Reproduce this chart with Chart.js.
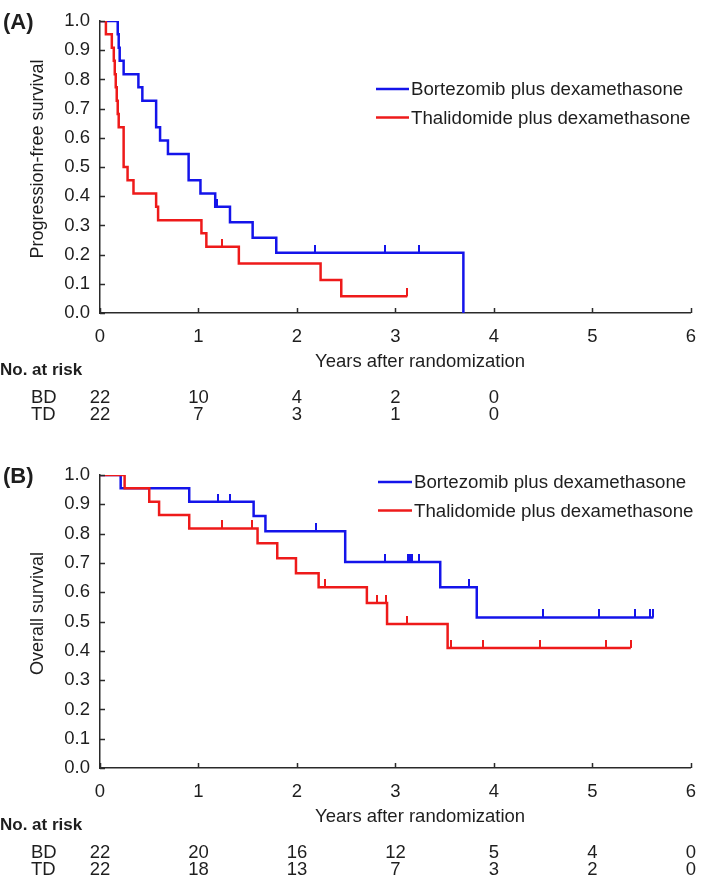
<!DOCTYPE html>
<html>
<head>
<meta charset="utf-8">
<script src="https://cdn.jsdelivr.net/npm/chart.js@4.4.1/dist/chart.umd.min.js"></script>
<style>
  body { margin: 0; background: #fff; }
  canvas { display: block; }
</style>
</head>
<body>
<canvas id="chartA" width="709" height="454"></canvas>
<canvas id="chartB" width="709" height="423"></canvas>
<script>
// ---- data ----
const seriesNames = ['Bortezomib plus dexamethasone', 'Thalidomide plus dexamethasone'];
const armCodes = ['BD', 'TD'];
const xTicks = [0, 1, 2, 3, 4, 5, 6];
const xTitle = 'Years after randomization';

// (A) progression-free survival
const pfsBdTime = [0, 0.18, 0.19, 0.20, 0.24, 0.39, 0.43, 0.57, 0.61, 0.69, 0.90, 1.02, 1.17, 1.32, 1.55, 1.79, 3.69];
const pfsBdSurv = [1, 0.955, 0.909, 0.864, 0.818, 0.773, 0.727, 0.636, 0.591, 0.545, 0.455, 0.409, 0.364, 0.311, 0.258, 0.206, 0];
const pfsBdCensor = [1.19, 2.18, 2.89, 3.24];
const pfsTdTime = [0, 0.06, 0.12, 0.14, 0.15, 0.16, 0.17, 0.18, 0.19, 0.24, 0.28, 0.34, 0.57, 0.59, 1.03, 1.08, 1.41, 2.24, 2.45, 3.12];
const pfsTdSurv = [1, 0.955, 0.909, 0.864, 0.818, 0.773, 0.727, 0.682, 0.636, 0.5, 0.455, 0.409, 0.364, 0.318, 0.273, 0.227, 0.17, 0.113, 0.057, 0.057];
const pfsTdCensor = [1.24, 3.12];
const pfsRiskBd = [22, 10, 4, 2, 0];
const pfsRiskTd = [22, 7, 3, 1, 0];

// (B) overall survival
const osBdTime = [0, 0.21, 0.906, 1.56, 1.68, 2.49, 3.455, 3.826, 5.62];
const osBdSurv = [1, 0.955, 0.909, 0.86, 0.808, 0.703, 0.617, 0.514, 0.514];
const osBdCensor = [1.20, 1.32, 2.19, 2.89, 3.13, 3.15, 3.17, 3.24, 3.75, 4.50, 5.07, 5.43, 5.59, 5.62];
const osTdTime = [0, 0.25, 0.50, 0.60, 0.906, 1.60, 1.80, 1.99, 2.22, 2.71, 2.915, 3.53, 5.39];
const osTdSurv = [1, 0.955, 0.909, 0.864, 0.818, 0.767, 0.716, 0.665, 0.617, 0.563, 0.492, 0.41, 0.41];
const osTdCensor = [1.24, 1.54, 2.28, 2.81, 2.90, 3.12, 3.56, 3.89, 4.47, 5.14, 5.39];
const osRiskBd = [22, 20, 16, 12, 5, 4, 0];
const osRiskTd = [22, 18, 13, 7, 3, 2, 0];

// ---- styling ----
const blue = '#1414ea';
const red = '#ee1a1a';
const axisColor = '#2a2a2a';
const textColor = '#1e1e1e';
const fontFamily = '"Liberation Sans", Arial, Helvetica, sans-serif';

Chart.defaults.font.family = fontFamily;
Chart.defaults.font.size = 18.5;
Chart.defaults.color = textColor;

function kmPoints(times, surv) {
  return times.map((t, i) => ({ x: t, y: surv[i] }));
}

// survival level of the curve at time t (for placing censor marks)
function survAt(times, surv, t) {
  let s = surv[0];
  for (let i = 0; i < times.length; i++) {
    if (times[i] <= t) s = surv[i];
  }
  return s;
}

// small upward tick used as censor marker
function censorMark(color) {
  const c = document.createElement('canvas');
  c.width = 2;
  c.height = 16;
  const g = c.getContext('2d');
  g.fillStyle = color;
  g.fillRect(0, 0, 2, 8);
  return c;
}

const kmExtras = {
  id: 'kmExtras',
  afterDraw(chart, args, opts) {
    const { ctx, chartArea } = chart;
    const x = chart.scales.x;
    const y = chart.scales.y;
    const base = chartArea.bottom;
    ctx.save();

    // inward tick marks
    ctx.strokeStyle = axisColor;
    ctx.lineWidth = 1.5;
    ctx.beginPath();
    x.ticks.forEach(t => {
      const px = Math.round(x.getPixelForValue(t.value)) + 0.5;
      ctx.moveTo(px, base);
      ctx.lineTo(px, base - 5);
    });
    y.ticks.forEach(t => {
      const py = Math.round(y.getPixelForValue(t.value)) + 0.5;
      ctx.moveTo(chartArea.left, py);
      ctx.lineTo(chartArea.left + 5, py);
    });
    ctx.stroke();

    ctx.fillStyle = textColor;
    ctx.textBaseline = 'middle';

    // y axis title
    ctx.save();
    ctx.font = '18px ' + fontFamily;
    ctx.translate(38, (chartArea.top + base) / 2 - 8);
    ctx.rotate(-Math.PI / 2);
    ctx.textAlign = 'center';
    ctx.fillText(opts.yTitle, 0, 0);
    ctx.restore();

    // x axis title
    ctx.font = '18.5px ' + fontFamily;
    ctx.textAlign = 'left';
    ctx.fillText(xTitle, 315, base + 49);

    // panel letter
    ctx.font = 'bold 22px ' + fontFamily;
    ctx.fillText(opts.panel, 3, chartArea.top + 2);

    // number at risk table
    ctx.font = 'bold 17px ' + fontFamily;
    ctx.fillText('No. at risk', 0, base + 57);
    ctx.font = '18.5px ' + fontFamily;
    opts.risk.forEach((row, r) => {
      const py = base + 85 + r * 17;
      ctx.textAlign = 'left';
      ctx.fillText(armCodes[r], 31, py);
      ctx.textAlign = 'center';
      row.forEach((n, i) => {
        ctx.fillText(String(n), x.getPixelForValue(xTicks[i]), py);
      });
    });

    // legend
    const colors = [blue, red];
    ctx.font = '18.7px ' + fontFamily;
    seriesNames.forEach((name, i) => {
      const py = opts.legendTop + i * 28.5;
      ctx.strokeStyle = colors[i];
      ctx.lineWidth = 2.5;
      ctx.beginPath();
      ctx.moveTo(opts.legendLeft, py);
      ctx.lineTo(opts.legendLeft + opts.legendLine, py);
      ctx.stroke();
      ctx.fillStyle = textColor;
      ctx.textAlign = 'left';
      ctx.fillText(name, opts.legendLeft + opts.legendLine + 2, py + 1);
    });

    ctx.restore();
  }
};

function makeChart(id, bdTime, bdSurv, bdCensor, tdTime, tdSurv, tdCensor, extras, padBottom) {
  const datasets = [
    {
      label: seriesNames[1],
      data: kmPoints(tdTime, tdSurv),
      borderColor: red,
      borderWidth: 2.5,
      stepped: 'before',
      pointRadius: 0,
      order: 1
    },
    {
      label: seriesNames[1] + ' censored',
      data: tdCensor.map(t => ({ x: t, y: survAt(tdTime, tdSurv, t) })),
      showLine: false,
      pointStyle: censorMark(red),
      clip: false,
      order: 0
    },
    {
      label: seriesNames[0],
      data: kmPoints(bdTime, bdSurv),
      borderColor: blue,
      borderWidth: 2.5,
      stepped: 'before',
      pointRadius: 0,
      order: 3
    },
    {
      label: seriesNames[0] + ' censored',
      data: bdCensor.map(t => ({ x: t, y: survAt(bdTime, bdSurv, t) })),
      showLine: false,
      pointStyle: censorMark(blue),
      clip: false,
      order: 2
    }
  ];

  return new Chart(document.getElementById(id), {
    type: 'line',
    data: { datasets: datasets },
    options: {
      responsive: false,
      animation: false,
      layout: { padding: { top: 15, right: 5, left: 0, bottom: padBottom } },
      plugins: {
        legend: { display: false },
        tooltip: { enabled: false },
        kmExtras: extras
      },
      scales: {
        x: {
          type: 'linear',
          min: 0,
          max: 6,
          ticks: { stepSize: 1, padding: 13, maxRotation: 0 },
          grid: { display: false, drawTicks: false },
          border: { display: true, color: axisColor, width: 1.5 },
          afterFit: s => { s.height = 45; }
        },
        y: {
          min: 0,
          max: 1,
          ticks: { stepSize: 0.1, padding: 10, callback: v => v.toFixed(1) },
          grid: { display: false, drawTicks: false },
          border: { display: true, color: axisColor, width: 1.5 },
          afterFit: s => { s.width = 100; }
        }
      }
    },
    plugins: [kmExtras]
  });
}

makeChart('chartA', pfsBdTime, pfsBdSurv, pfsBdCensor, pfsTdTime, pfsTdSurv, pfsTdCensor,
  { panel: '(A)', yTitle: 'Progression-free survival', risk: [pfsRiskBd, pfsRiskTd], legendLeft: 376, legendTop: 89, legendLine: 33 },
  454 - 313 - 45);

makeChart('chartB', osBdTime, osBdSurv, osBdCensor, osTdTime, osTdSurv, osTdCensor,
  { panel: '(B)', yTitle: 'Overall survival', risk: [osRiskBd, osRiskTd], legendLeft: 378, legendTop: 28, legendLine: 34 },
  423 - 314 - 45);
</script>
</body>
</html>
